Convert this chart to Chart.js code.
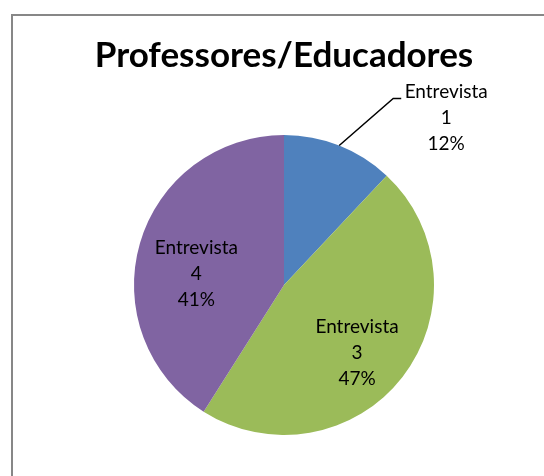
<!DOCTYPE html>
<html>
<head>
<meta charset="utf-8">
<script src="https://cdn.jsdelivr.net/npm/chart.js@4/dist/chart.umd.min.js"></script>
<style>
  html, body { margin: 0; padding: 0; background: #fff; }
  #wrap { width: 544px; height: 476px; position: relative; }
</style>
</head>
<body>
<div id="wrap"><canvas id="chart" width="544" height="476"></canvas></div>
<script>
// Data
const labels = ["Entrevista 1", "Entrevista 3", "Entrevista 4"];
const values = [12, 47, 41];
const colors = ["#4F81BD", "#9BBB59", "#8064A2"];
const chartTitle = "Professores/Educadores";

const FONT = "Lato, 'Open Sans', sans-serif";

// frame around the chart (only top and left edges are visible)
const framePlugin = {
    id: "frame",
    beforeDraw(chart) {
        const ctx = chart.ctx;
        ctx.save();
        ctx.strokeStyle = "#878787";
        ctx.lineWidth = 2;
        ctx.beginPath();
        ctx.moveTo(12, chart.height);
        ctx.lineTo(12, 15);
        ctx.lineTo(chart.width, 15);
        ctx.stroke();
        ctx.restore();
    }
};

// slice labels: name on two lines plus percentage
const sliceLabels = {
    id: "sliceLabels",
    afterDatasetsDraw(chart) {
        const ctx = chart.ctx;
        const meta = chart.getDatasetMeta(0);
        const total = values.reduce((a, b) => a + b, 0);
        ctx.save();
        ctx.font = "19px " + FONT;
        ctx.fillStyle = "#000";
        ctx.textAlign = "center";
        ctx.textBaseline = "middle";
        meta.data.forEach((arc, i) => {
            const mid = (arc.startAngle + arc.endAngle) / 2;
            const parts = labels[i].split(" ");
            const pct = Math.round(values[i] / total * 100) + "%";
            const lines = [parts[0], parts[1], pct];
            let x, y;
            if (i === 0) {
                // outside label with leader line
                const sx = arc.x + Math.cos(mid) * arc.outerRadius;
                const sy = arc.y + Math.sin(mid) * arc.outerRadius;
                const ex = sx + 54, ey = sy - 47;
                ctx.strokeStyle = "#000";
                ctx.lineWidth = 1.5;
                ctx.beginPath();
                ctx.moveTo(sx, sy);
                ctx.lineTo(ex, ey);
                ctx.lineTo(ex + 8, ey);
                ctx.stroke();
                x = ex + 53;
                y = ey + 19;
            } else {
                const f = 0.65;
                x = arc.x + Math.cos(mid) * arc.outerRadius * f;
                y = arc.y + Math.sin(mid) * arc.outerRadius * f;
                if (i === 1) { x -= 4; y += 8; }
                if (i === 2) { x += 6; y += 16; }
            }
            lines.forEach((t, k) => {
                ctx.fillText(t, x, y + (k - 1) * 26);
            });
        });
        ctx.restore();
    }
};

new Chart(document.getElementById("chart"), {
    type: "pie",
    data: {
        labels: labels,
        datasets: [{
            data: values,
            backgroundColor: colors,
            borderWidth: 0
        }]
    },
    options: {
        responsive: false,
        animation: false,
        layout: { padding: { left: 24, right: 0, top: 0, bottom: 41 } },
        plugins: {
            legend: { display: false },
            tooltip: { enabled: false },
            title: {
                display: true,
                text: chartTitle,
                color: "#000",
                font: { family: FONT, size: 35, weight: "bold", lineHeight: 1.2 },
                padding: { top: 35, bottom: 58 }
            }
        }
    },
    plugins: [framePlugin, sliceLabels]
});
</script>
</body>
</html>
